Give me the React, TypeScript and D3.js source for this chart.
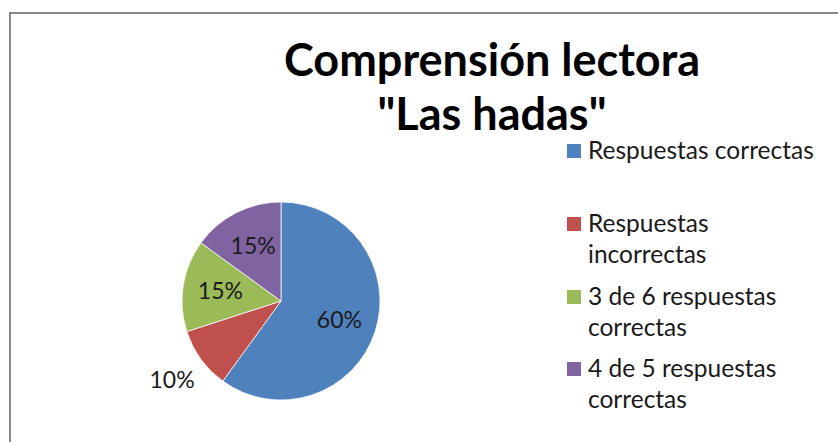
import React from "react";
import * as d3 from "d3";

const categories = [
  "Respuestas correctas",
  "Respuestas incorrectas",
  "3 de 6 respuestas correctas",
  "4 de 5 respuestas correctas",
];
const legendLines = [
  ["Respuestas correctas"],
  ["Respuestas", "incorrectas"],
  ["3 de 6 respuestas", "correctas"],
  ["4 de 5 respuestas", "correctas"],
];
const values = [60, 10, 15, 15];
const colors = ["#4F81BD", "#C0504D", "#9BBB59", "#8064A2"];
const titleLines = ["Comprensión lectora", "\"Las hadas\""];

const W = 838;
const H = 442;
const FONT = "Lato, 'Open Sans', sans-serif";

export default function App() {
  const cx = 281;
  const cy = 301;
  const r = 99;
  const total = d3.sum(values);
  const pie = d3
    .pie<number>()
    .sort(null)
    .value((d) => d)
    .startAngle(0)
    .endAngle(2 * Math.PI);
  const arcs = pie(values);
  const arc = d3.arc<d3.PieArcDatum<number>>().innerRadius(0).outerRadius(r);
  const inLabel = d3.arc<d3.PieArcDatum<number>>().innerRadius(r * 0.62).outerRadius(r * 0.62);
  const outLabel = d3.arc<d3.PieArcDatum<number>>().innerRadius(r * 1.36).outerRadius(r * 1.36);

  const legendY = d3.scaleOrdinal<number, number>().domain([0, 1, 2, 3]).range([159, 232, 305, 377]);
  const lineH = 31;

  return (
    <svg
      width={W}
      height={H}
      style={{ position: "absolute", left: 0, top: 0, background: "#fff" }}
    >
      <rect x={0} y={0} width={W} height={H} fill="#fff" />
      <path d={`M10,${H + 5} L10,13 L${W + 5},13`} fill="none" stroke="#878787" strokeWidth={2} />
      <g fontFamily={FONT} fontWeight={700} fontSize={45} textAnchor="middle" fill="#000">
        {titleLines.map((t, i) => (
          <text key={i} x={492} y={76 + i * 54}>
            {t}
          </text>
        ))}
      </g>
      <g transform={`translate(${cx},${cy})`}>
        {arcs.map((a, i) => (
          <path key={i} d={arc(a) || ""} fill={colors[i]} stroke="#fff" strokeWidth={0.75} />
        ))}
        {arcs.map((a, i) => {
          const share = a.data / total;
          const [x, y] = share < 0.12 ? outLabel.centroid(a) : inLabel.centroid(a);
          return (
            <text
              key={i}
              x={x}
              y={y}
              dy="0.35em"
              textAnchor="middle"
              fontFamily={FONT}
              fontSize={23}
              fill="#1a1a1a"
            >
              {`${Math.round(share * 100)}%`}
            </text>
          );
        })}
      </g>
      <g fontFamily={FONT} fontSize={24.5} fill="#1a1a1a">
        {categories.map((c, i) => (
          <g key={c}>
            <rect x={567} y={legendY(i) - 15} width={14} height={14} fill={colors[i]} />
            {legendLines[i].map((l, j) => (
              <text key={j} x={588} y={legendY(i) + j * lineH}>
                {l}
              </text>
            ))}
          </g>
        ))}
      </g>
    </svg>
  );
}
